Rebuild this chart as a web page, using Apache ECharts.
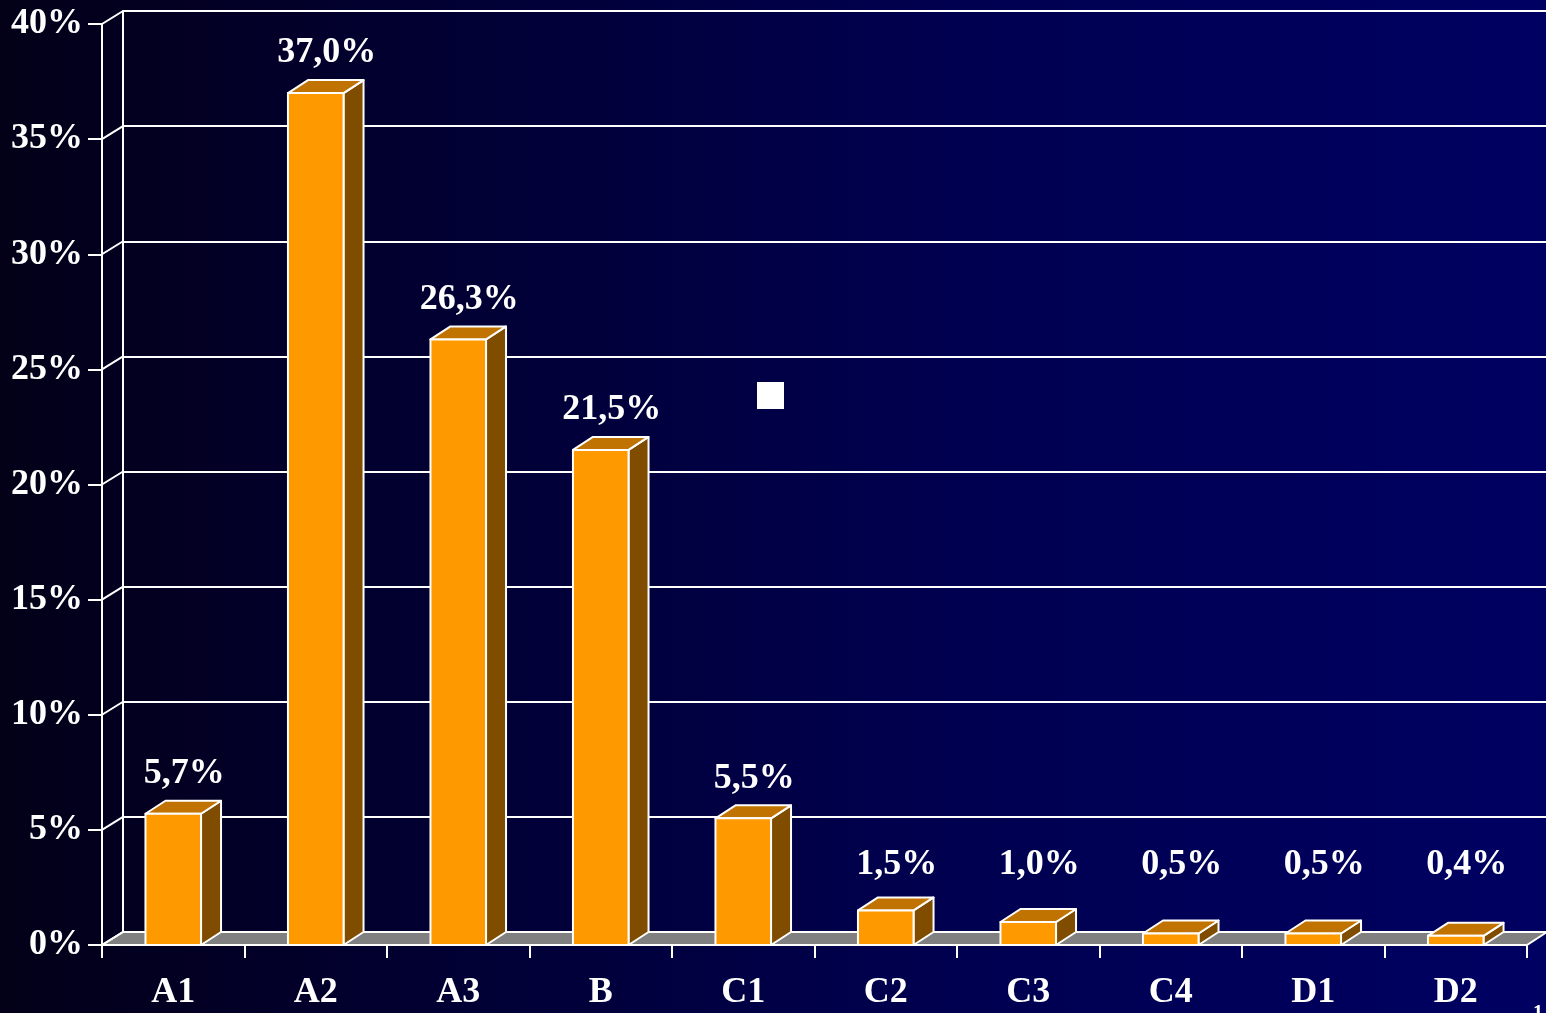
<!DOCTYPE html>
<html>
<head>
<meta charset="utf-8">
<script src="https://cdn.jsdelivr.net/npm/echarts@6/dist/echarts.min.js"></script>
<style>
html,body{margin:0;padding:0;background:#000;}
#chart{width:1546px;height:1013px;}
</style>
</head>
<body>
<div id="chart"></div>
<script>
var categories = ['A1','A2','A3','B','C1','C2','C3','C4','D1','D2'];
var values = [5.7, 37.0, 26.3, 21.5, 5.5, 1.5, 1.0, 0.5, 0.5, 0.4];
var tickValues = [0, 5, 10, 15, 20, 25, 30, 35, 40];
var seriesName = 'Share';
var labelFloor = 2.7; // small bars keep their labels at least this high

var DX = 21, DY = -13;
var FONT = '"Liberation Serif", "Times New Roman", serif';

function fmt(v){ return v.toFixed(1).replace('.', ',') + '%'; }

function renderBar(params, api){
  var idx = api.value(0);
  var v = api.value(1);
  var base = api.coord([idx, 0]);
  var top = api.coord([idx, v]);
  var bw = api.size([1, 0])[0] * 0.39;
  var x0 = base[0] - bw / 2, x1 = base[0] + bw / 2;
  var y0 = base[1], y1 = top[1];
  var dx = 20, dy = -13;
  var ly = Math.min(y1 + dy - 9, api.coord([idx, labelFloor])[1]);
  var st = {stroke:'#ffffff', lineWidth:2, lineJoin:'round'};
  return {type:'group', children:[
    {type:'polygon', shape:{points:[[x1,y1],[x1+dx,y1+dy],[x1+dx,y0+dy],[x1,y0]]},
      style:Object.assign({fill:'#7f4c00'}, st)},
    {type:'polygon', shape:{points:[[x0,y1],[x0+dx,y1+dy],[x1+dx,y1+dy],[x1,y1]]},
      style:Object.assign({fill:'#c07300'}, st)},
    {type:'rect', shape:{x:x0, y:y1, width:bw, height:y0 - y1},
      style:Object.assign({fill:'#ff9900'}, st)},
    {type:'text', style:{text:fmt(v), x:(x0 + x1) / 2 + dx / 2 + 1, y:ly,
      textAlign:'center', textVerticalAlign:'bottom', fill:'#ffffff',
      font:'bold 36px ' + FONT}}
  ]};
}

function renderFloor(params, api){
  var cs = params.coordSys;
  var l = cs.x, r = cs.x + cs.width, b = cs.y + cs.height;
  return {type:'polygon', shape:{points:[[l,b],[r,b],[r+DX-1,b+DY],[l+DX,b+DY]]},
    style:{fill:'#808080', stroke:'#ffffff', lineWidth:2}};
}

function renderDiag(params, api){
  var cs = params.coordSys;
  var y = api.coord([0, api.value(1)])[1];
  var l = cs.x;
  return {type:'line', shape:{x1:l, y1:y, x2:l + DX, y2:y + DY},
    style:{stroke:'#ffffff', lineWidth:2}};
}

var chart = echarts.init(document.getElementById('chart'), null, {renderer:'canvas'});
chart.setOption({
  backgroundColor:{type:'linear', x:0, y:0, x2:1, y2:0,
    colorStops:[{offset:0, color:'#030018'}, {offset:0.6, color:'#00004f'}, {offset:1, color:'#000062'}]},
  animation:false,
  textStyle:{fontFamily:FONT},
  legend:{show:true, left:752, top:377, itemWidth:27, itemHeight:27, icon:'rect',
    selectedMode:false, formatter:function(){ return ''; },
    data:[{name:seriesName, itemStyle:{color:'#ffffff', borderWidth:0}}]},
  graphic:[{type:'text', left:1533, top:1004,
    style:{text:'1', fill:'#ffffff', font:'bold 20px ' + FONT}}],
  grid:[
    {left:102, right:19, top:24, bottom:68},
    {left:123, right:0, top:11, bottom:81}
  ],
  xAxis:[
    {type:'category', gridIndex:0, data:categories,
      axisLine:{show:true, lineStyle:{color:'#ffffff', width:2}},
      axisTick:{show:true, length:13, lineStyle:{color:'#ffffff', width:2}},
      axisLabel:{color:'#ffffff', fontFamily:FONT, fontWeight:'bold', fontSize:36, margin:30},
      splitLine:{show:false}},
    {type:'category', gridIndex:1, data:categories, show:false}
  ],
  yAxis:[
    {type:'value', gridIndex:0, min:0, max:40, interval:5,
      axisLine:{show:true, lineStyle:{color:'#ffffff', width:2}},
      axisTick:{show:true, length:14, lineStyle:{color:'#ffffff', width:2}},
      axisLabel:{color:'#ffffff', fontFamily:FONT, fontWeight:'bold', fontSize:36, margin:19,
        formatter:'{value}%'},
      splitLine:{show:false}},
    {type:'value', gridIndex:1, min:0, max:40, interval:5,
      axisLine:{show:true, lineStyle:{color:'#ffffff', width:2}},
      axisTick:{show:false}, axisLabel:{show:false},
      splitLine:{show:true, lineStyle:{color:'#ffffff', width:2}}},
    {type:'value', gridIndex:1, min:0, max:40, interval:5, position:'right',
      axisLine:{show:true, lineStyle:{color:'#9090c0', width:1}},
      axisTick:{show:false}, axisLabel:{show:false}, splitLine:{show:false}}
  ],
  series:[
    {type:'custom', name:'floor', xAxisIndex:0, yAxisIndex:0, z:1,
      renderItem:renderFloor, data:[[0, 0]], silent:true},
    {type:'custom', name:'diag', xAxisIndex:0, yAxisIndex:0, z:1,
      renderItem:renderDiag, data:tickValues.map(function(t){ return [0, t]; }), silent:true},
    {type:'custom', name:seriesName, xAxisIndex:0, yAxisIndex:0, z:3,
      itemStyle:{color:'#ff9900'},
      renderItem:renderBar, data:values.map(function(v, i){ return [i, v]; })}
  ]
});
</script>
</body>
</html>
